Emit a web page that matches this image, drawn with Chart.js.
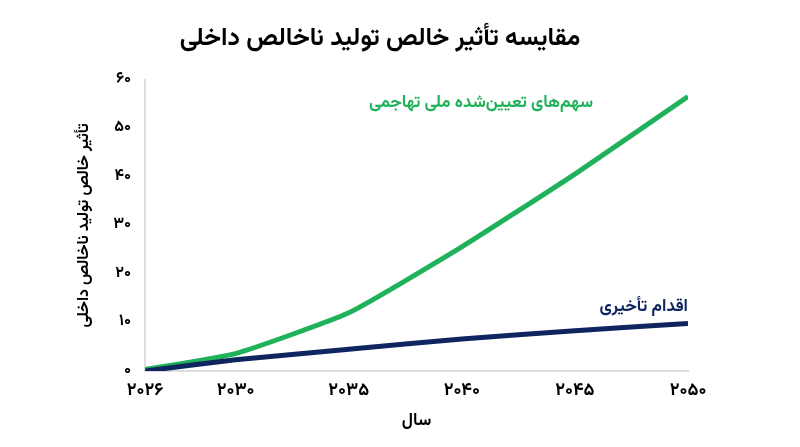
<!DOCTYPE html>
<html><head><meta charset="utf-8">
<script src="https://cdn.jsdelivr.net/npm/chart.js@4"></script>
<style>html,body{margin:0;background:#fff}#w{width:800px;height:447px}</style>
</head><body><div id="w"><canvas id="c"></canvas></div>
<script>
const years = [2026, 2030, 2035, 2040, 2045, 2050];
const aggressive = [0.3, 3.6, 12, 25.6, 40.6, 56.6];
const delayed = [0, 2.3, 4.5, 6.6, 8.3, 9.8];
const yTicks = [0, 10, 20, 30, 40, 50, 60];
const title = 'مقایسه تأثیر خالص تولید ناخالص داخلی';
const labA = 'سهم‌های تعیین‌شده ملی تهاجمی';
const labD = 'اقدام تأخیری';
const fa = n => String(n).replace(/\d/g, d => '۰۱۲۳۴۵۶۷۸۹'[d]);
const F = 'Vazirmatn, "Noto Sans", "DejaVu Sans", sans-serif';
const labelsPlugin = {id:'lbl', afterDatasetsDraw(ch){
  const {ctx, scales:{x,y}} = ch;
  ctx.save(); ctx.font = 'bold 17px ' + F; ctx.textAlign = 'right'; ctx.direction='rtl';
  ctx.fillStyle = '#1fb25a'; ctx.fillText(labA, x.getPixelForValue(2045.8), y.getPixelForValue(54.5));
  ctx.fillStyle = '#0f2560'; ctx.fillText(labD, x.getPixelForValue(2050), y.getPixelForValue(12.3));
  ctx.restore();
}};
new Chart(document.getElementById('c'), {
  type: 'line',
  data: { datasets: [
    {data: years.map((v,i)=>({x:v,y:delayed[i]})), borderColor:'#0f2560', borderWidth:5, pointRadius:0, tension:0.15},
    {data: years.map((v,i)=>({x:v,y:aggressive[i]})), borderColor:'#1fb25a', borderWidth:5, pointRadius:0, tension:0.15}
  ]},
  plugins:[labelsPlugin],
  options: {
    responsive:true, maintainAspectRatio:false, animation:false,
    layout:{padding:{left:72,right:112,top:4,bottom:14}},
    plugins:{legend:{display:false}, tooltip:{enabled:false},
      title:{display:true, text:title, color:'#000', font:{family:F, size:25, weight:'bold'}, padding:{top:22,bottom:24}}},
    scales:{
      x:{type:'linear', min:2026, max:2050,
        afterBuildTicks: s => { s.ticks = years.map(v=>({value:v})); },
        grid:{display:false, drawTicks:false}, border:{color:'#ddd', width:2},
        ticks:{callback:v=>fa(v), color:'#000', font:{family:F,size:18,weight:'bold'}, padding:10, maxRotation:0},
        title:{display:true, text:'سال', color:'#000', font:{family:F,size:17,weight:'bold'}, padding:{top:0,bottom:0}}},
      y:{min:0, max:60,
        afterBuildTicks: s => { s.ticks = yTicks.map(v=>({value:v})); },
        grid:{display:false, drawTicks:false}, border:{color:'#ddd', width:2},
        ticks:{callback:v=>fa(v), color:'#000', font:{family:F,size:16,weight:'bold'}, padding:14},
        title:{display:true, text:title.replace('مقایسه ',''), color:'#000', font:{family:F,size:16,weight:'bold'}}}
    }
  }
});
</script></body></html>
